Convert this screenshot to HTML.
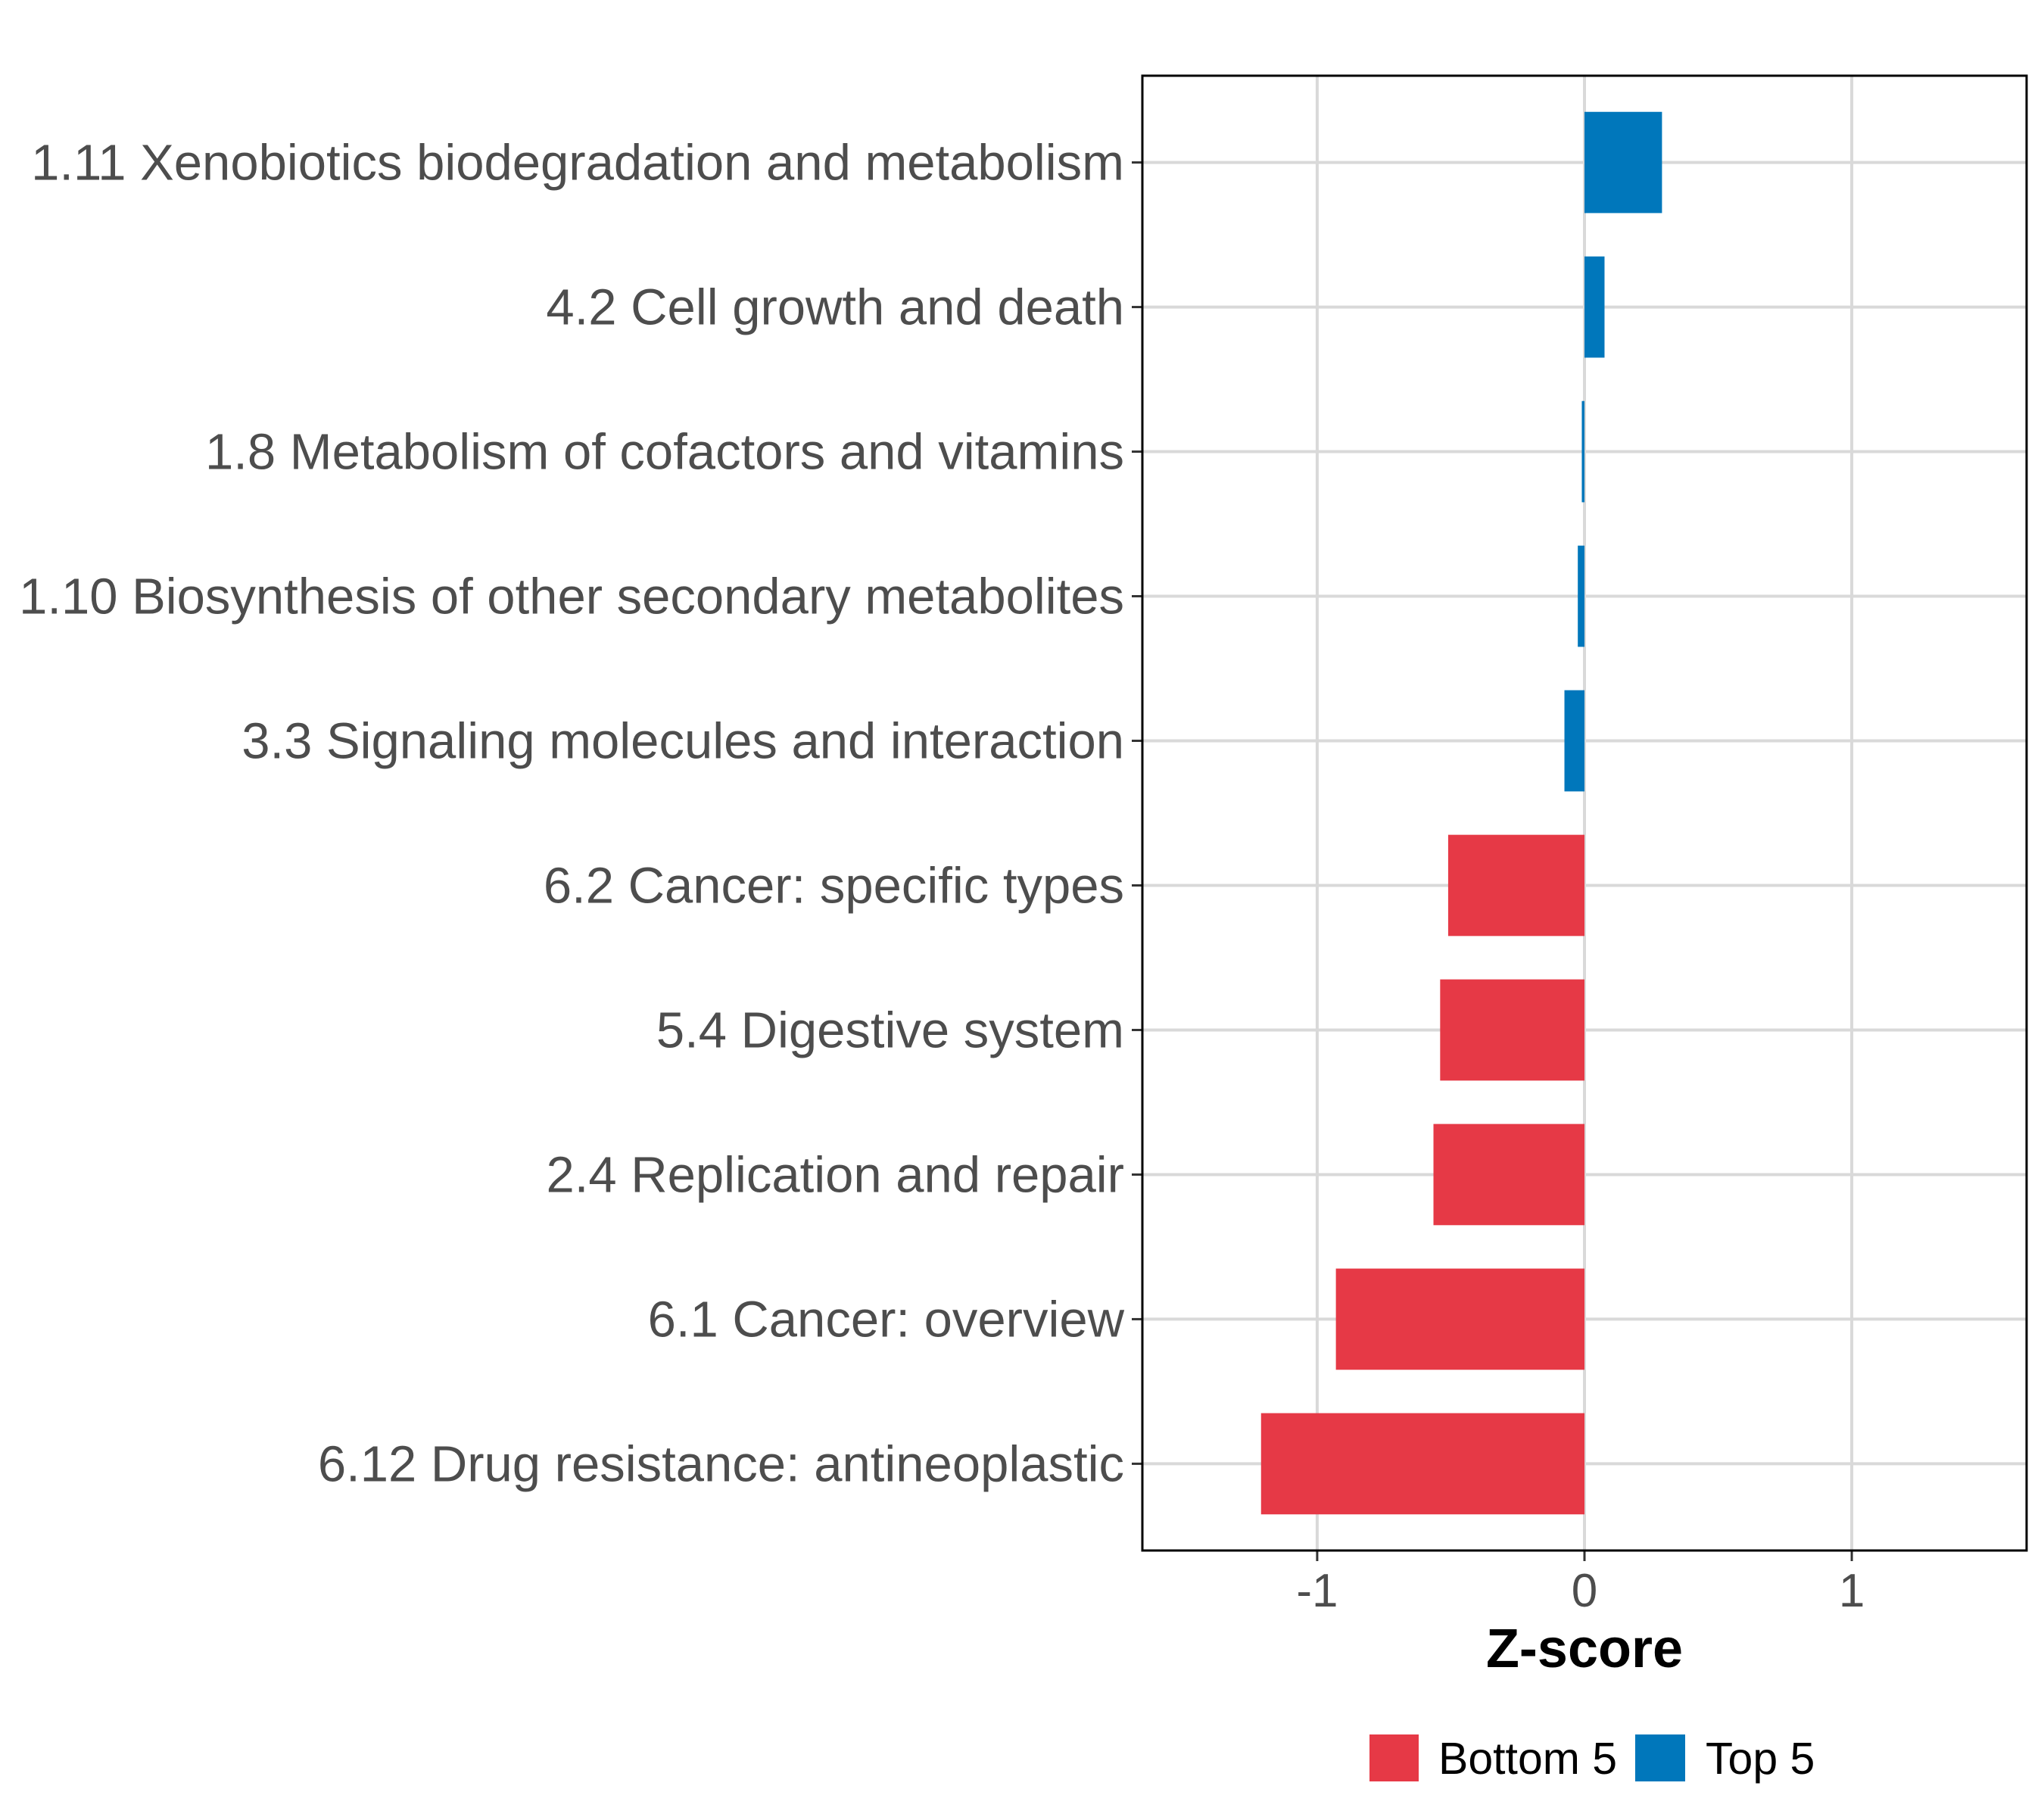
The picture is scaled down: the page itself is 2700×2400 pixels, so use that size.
<!DOCTYPE html>
<html><head><meta charset="utf-8"><style>
html,body{margin:0;padding:0;background:#fff;}
svg{display:block;font-family:"Liberation Sans",Arial,sans-serif;}
</style></head><body>
<svg id="chart" width="2700" height="2400" viewBox="0 0 2700 2400" xmlns="http://www.w3.org/2000/svg">
<rect x="0" y="0" width="2700" height="2400" fill="#fff"/>
<g id="grid"></g>
<g id="bars"></g>
<g id="yaxis"></g>
<g id="xaxis"></g>
<rect x="1509" y="100" width="1168" height="1948" fill="none" stroke="#000" stroke-width="3"/>
<text x="2093" y="2202" font-size="72" font-weight="bold" text-anchor="middle" fill="#000">Z-score</text>
<g>
<rect x="1809" y="2291" width="65" height="62" fill="#E63946"/>
<text x="1900" y="2343" font-size="59" fill="#000">Bottom 5</text>
<rect x="2160" y="2291" width="66" height="62" fill="#0077BB"/>
<text x="2253" y="2343" font-size="59" fill="#000">Top 5</text>
</g>
</svg>
<script>
const categories = ["1.11 Xenobiotics biodegradation and metabolism","4.2 Cell growth and death","1.8 Metabolism of cofactors and vitamins","1.10 Biosynthesis of other secondary metabolites","3.3 Signaling molecules and interaction","6.2 Cancer: specific types","5.4 Digestive system","2.4 Replication and repair","6.1 Cancer: overview","6.12 Drug resistance: antineoplastic"];
const values = [0.29, 0.075, -0.01, -0.025, -0.075, -0.51, -0.54, -0.565, -0.93, -1.21];
const groups = ["Top 5","Top 5","Top 5","Top 5","Top 5","Bottom 5","Bottom 5","Bottom 5","Bottom 5","Bottom 5"];
const xTicks = [-1, 0, 1];
const xTickLabels = ["-1", "0", "1"];

const NS = "http://www.w3.org/2000/svg";
const L = 1509, R = 2677, T = 100, B = 2048;
const xMin = -1.654, xMax = 1.654;
const xs = v => L + (v - xMin) / (xMax - xMin) * (R - L);
const step = (B - T) / (categories.length - 1 + 1.2);
const ys = i => T + step * (i + 0.6);
const colors = {"Top 5": "#0077BB", "Bottom 5": "#E63946"};
function mk(tag, attrs, parent) {
  const e = document.createElementNS(NS, tag);
  for (const k in attrs) e.setAttribute(k, attrs[k]);
  parent.appendChild(e);
  return e;
}
const grid = document.getElementById("grid");
const bars = document.getElementById("bars");
const yaxis = document.getElementById("yaxis");
const xaxis = document.getElementById("xaxis");
xTicks.forEach((t, i) => {
  const g = mk("line", {x1: xs(t), x2: xs(t), y1: T, y2: B, stroke: "#d9d9d9", "stroke-width": 4}, grid);
  
  
  const tk = mk("line", {x1: xs(t), x2: xs(t), y1: B, y2: B + 14, stroke: "#333", "stroke-width": 3}, xaxis);
  
  
  const tl = mk("text", {x: xs(t), y: 2122, "font-size": 62, "text-anchor": "middle", fill: "#4d4d4d"}, xaxis);
  tl.textContent = xTickLabels[i];
  
  
});
categories.forEach((c, i) => {
  const y = ys(i);
  const gl = mk("line", {x1: L, x2: R, y1: y, y2: y, stroke: "#d9d9d9", "stroke-width": 4}, grid);
  
  
  const v = values[i];
  const x0 = xs(0), x1 = xs(v);
  const bh = step * 0.7;
  const r = mk("rect", {x: Math.min(x0, x1), y: y - bh / 2, width: Math.max(Math.abs(x1 - x0), 1), height: bh, fill: colors[groups[i]]}, bars);
  
  
  const tk = mk("line", {x1: L - 14, x2: L, y1: y, y2: y, stroke: "#333", "stroke-width": 3}, yaxis);
  
  
  const t = mk("text", {x: 1485, y: y + 23, "font-size": 67, "text-anchor": "end", fill: "#4d4d4d"}, yaxis);
  t.textContent = c;
  
  
});
</script>
</body></html>
